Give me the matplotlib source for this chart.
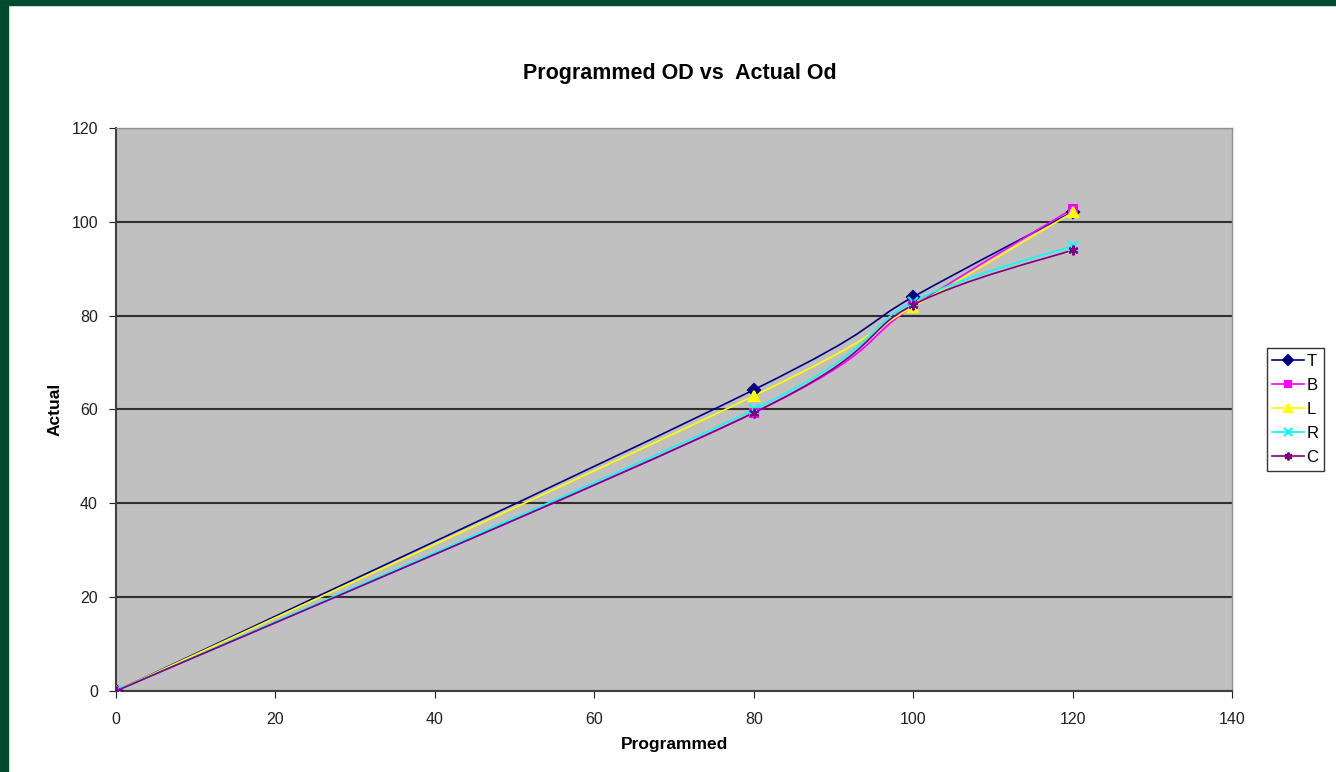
import numpy as np
import matplotlib
matplotlib.use("Agg")
import matplotlib.pyplot as plt
from matplotlib.path import Path
from matplotlib.patches import PathPatch, Rectangle

plt.rcParams['font.family'] = ['Liberation Sans', 'DejaVu Sans']

programmed = [0, 80, 100, 120]
series_names = ["T", "B", "L", "R", "C"]
t_vals = [0, 64.2, 84.0, 102.1]
b_vals = [0, 59.3, 82.0, 102.8]
l_vals = [0, 62.9, 81.9, 102.0]
r_vals = [0, 60.0, 83.0, 94.9]
c_vals = [0, 59.3, 82.3, 94.0]

colors = ["#000080", "#ff00ff", "#ffff00", "#00ffff", "#800080"]
markers = ["D", "s", "^", "x", (6, 2, 0)]
msizes = [6, 6, 7, 7, 7]


def smooth_path(xs, ys):
    # excel-style smoothed line: cubic bezier through points
    pts = np.column_stack([xs, ys]).astype(float)
    n = len(pts)
    verts = [pts[0]]
    codes = [Path.MOVETO]
    for i in range(n - 1):
        p0 = pts[i - 1] if i > 0 else pts[i]
        p1 = pts[i]
        p2 = pts[i + 1]
        p3 = pts[i + 2] if i + 2 < n else pts[i + 1]
        c1 = p1 + (p2 - p0) / 6.0
        c2 = p2 - (p3 - p1) / 6.0
        verts += [c1, c2, p2]
        codes += [Path.CURVE4] * 3
    return Path(verts, codes)


fig = plt.figure(figsize=(13.36, 7.72), dpi=100)
fig.patch.set_facecolor("white")
# dark green slide frame
fig.patches.append(Rectangle((0, 0), 8 / 1336, 1, transform=fig.transFigure,
                             color="#004a30", zorder=0))
fig.patches.append(Rectangle((0, 1 - 5 / 772), 1, 5 / 772, transform=fig.transFigure,
                             color="#004a30", zorder=0))

ax = fig.add_axes([116 / 1336, 1 - 691 / 772, (1232 - 116) / 1336, (691 - 128) / 772])
ax.set_facecolor("#c0c0c0")

all_vals = [t_vals, b_vals, l_vals, r_vals, c_vals]
for name, vals, col, mk, ms in zip(series_names, all_vals, colors, markers, msizes):
    patch = PathPatch(smooth_path(programmed, vals), facecolor="none",
                      edgecolor=col, lw=1.2, zorder=3)
    ax.add_patch(patch)
    ax.plot(programmed, vals, linestyle="none", marker=mk, color=col,
            markersize=ms, markeredgewidth=1.5, zorder=4)
    # legend proxy
    ax.plot([], [], color=col, lw=1.2, marker=mk, markersize=ms,
            markeredgewidth=1.5, label=name)

ax.set_xlim(0, 140)
ax.set_ylim(0, 120)
ax.set_xticks(range(0, 141, 20))
ax.set_yticks(range(0, 121, 20))
ax.yaxis.grid(True, color="#303030", lw=1.5)
ax.set_axisbelow(True)
ax.tick_params(labelsize=11.5, colors="#202020", length=5, direction="out")
ax.tick_params(axis="x", pad=10)
ax.tick_params(axis="y", pad=8)

for s in ["left", "bottom"]:
    ax.spines[s].set_color("#404040")
    ax.spines[s].set_linewidth(1.5)
for s in ["top", "right"]:
    ax.spines[s].set_color("#909090")
    ax.spines[s].set_linewidth(1.0)

ax.set_title("Programmed OD vs  Actual Od", fontsize=15.5, fontweight="bold",
             pad=35, x=0.505)
ax.set_xlabel("Programmed", fontsize=12.5, fontweight="bold", labelpad=7)
ax.set_ylabel("Actual", fontsize=12.5, fontweight="bold", labelpad=6)

leg = ax.legend(loc="center left", bbox_to_anchor=(1.031, 0.5), frameon=True,
                fancybox=False, edgecolor="black", fontsize=12,
                handlelength=1.9, handletextpad=0.15, labelspacing=0.55,
                borderpad=0.35, borderaxespad=0, markerscale=0.8)
leg.get_frame().set_linewidth(1.0)

plt.savefig("out.png", dpi=100, facecolor=fig.get_facecolor())
